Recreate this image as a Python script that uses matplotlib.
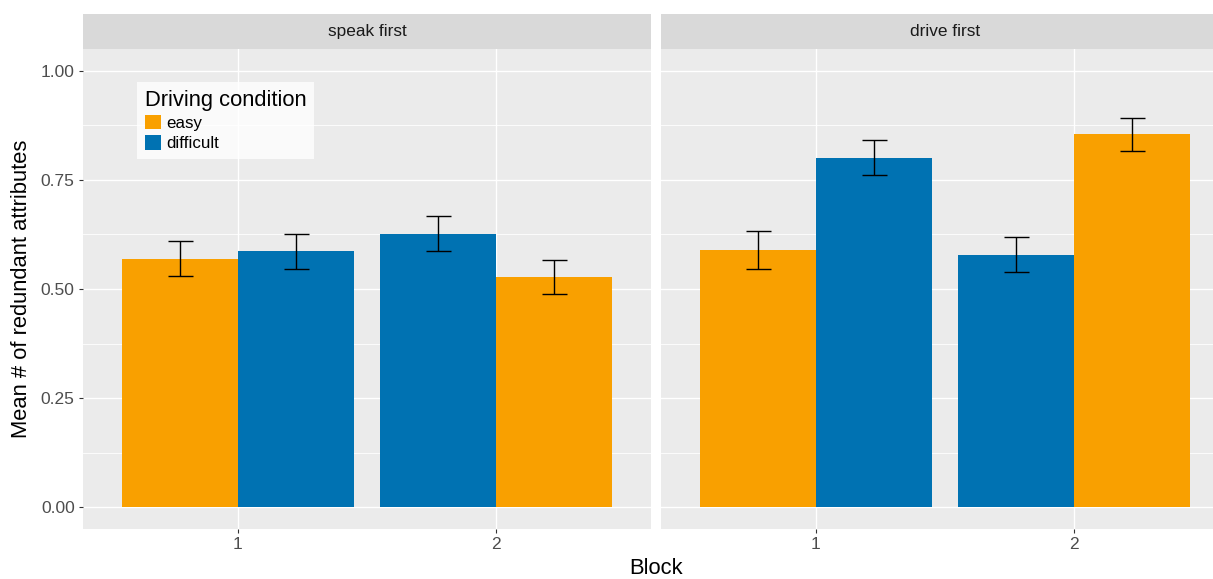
import matplotlib
matplotlib.use('Agg')
import matplotlib.pyplot as plt
from matplotlib.patches import Patch
import numpy as np

plt.rcParams['font.family'] = ['Liberation Sans', 'DejaVu Sans']

# Data
panels = ['speak first', 'drive first']
blocks = [1, 2]
conditions = ['easy', 'difficult']
colors = {'easy': '#F9A000', 'difficult': '#0072B2'}

# bars in drawing order: block, condition (left bar first within block)
bar_block = [1, 1, 2, 2]
speak_cond = ['easy', 'difficult', 'difficult', 'easy']
speak_mean = [0.569, 0.586, 0.627, 0.528]
speak_se = [0.040, 0.041, 0.041, 0.039]
drive_cond = ['easy', 'difficult', 'difficult', 'easy']
drive_mean = [0.589, 0.801, 0.579, 0.855]
drive_se = [0.043, 0.040, 0.040, 0.038]

panel_data = [(speak_cond, speak_mean, speak_se),
              (drive_cond, drive_mean, drive_se)]

W, H = 1213, 579
fig = plt.figure(figsize=(W / 100, H / 100), dpi=100)

# pixel layout
panel_lefts = [83, 661]
panel_w = 568
panel_top, panel_bot = 49, 529
strip_top = 14

dodge = [-0.225, 0.225]
axes = []
for i, (name, (cond, mean, se)) in enumerate(zip(panels, panel_data)):
    ax = fig.add_axes([panel_lefts[i] / W, (H - panel_bot) / H,
                       panel_w / W, (panel_bot - panel_top) / H])
    ax.set_facecolor('#EBEBEB')
    for s in ax.spines.values():
        s.set_visible(False)
    ax.set_xlim(0.4, 2.6)
    ax.set_ylim(-0.05, 1.05)
    ax.set_yticks([0, 0.25, 0.5, 0.75, 1.0])
    ax.set_yticks([0.125, 0.375, 0.625, 0.875], minor=True)
    ax.set_xticks(blocks)
    ax.set_xticklabels([str(b) for b in blocks])
    ax.grid(which='major', color='white', lw=1.0)
    ax.grid(which='minor', axis='y', color='white', lw=0.6)
    ax.set_axisbelow(True)
    ax.tick_params(axis='both', which='major', length=3, width=0.8,
                   color='#333333', labelcolor='#4D4D4D', labelsize=12.5, pad=3)
    ax.tick_params(which='minor', length=0)
    if i == 0:
        ax.set_yticklabels(['0.00', '0.25', '0.50', '0.75', '1.00'])
    else:
        ax.tick_params(axis='y', left=False, labelleft=False)

    for k in range(len(bar_block)):
        side = k % 2
        x = bar_block[k] + dodge[side]
        ax.bar(x, mean[k], width=0.45, color=colors[cond[k]], zorder=2)
        ax.errorbar(x, mean[k], yerr=se[k], fmt='none', ecolor='black',
                    elinewidth=1.0, capsize=9, capthick=1.0, zorder=3)

    # strip
    sax = fig.add_axes([panel_lefts[i] / W, (H - panel_top) / H,
                        panel_w / W, (panel_top - strip_top) / H])
    sax.set_facecolor('#D9D9D9')
    sax.set_xticks([])
    sax.set_yticks([])
    for s in sax.spines.values():
        s.set_visible(False)
    sax.text(0.5, 0.5, name, ha='center', va='center', fontsize=12.4,
             color='#1A1A1A', transform=sax.transAxes)
    axes.append(ax)

handles = [Patch(facecolor=colors[c], edgecolor='none') for c in conditions]
leg = fig.legend(handles, conditions, loc='upper left',
                 bbox_to_anchor=(137 / W, 1 - 82 / H), bbox_transform=fig.transFigure,
                 title='Driving condition', fontsize=12.2, title_fontsize=15.8,
                 frameon=True, fancybox=False, borderaxespad=0, borderpad=0.45,
                 handlelength=0.95, handleheight=0.95, handletextpad=0.3,
                 labelspacing=0.25, alignment='left')
leg.get_frame().set_facecolor('white')
leg.get_frame().set_linewidth(0)

fig.text(22 / W, 1 - 289 / H, 'Mean # of redundant attributes', rotation=90,
         ha='center', va='center', fontsize=15.8)
fig.text(656 / W, 1 - 569 / H, 'Block', ha='center', va='center', fontsize=15.8)

fig.savefig('out.png', dpi=100)
